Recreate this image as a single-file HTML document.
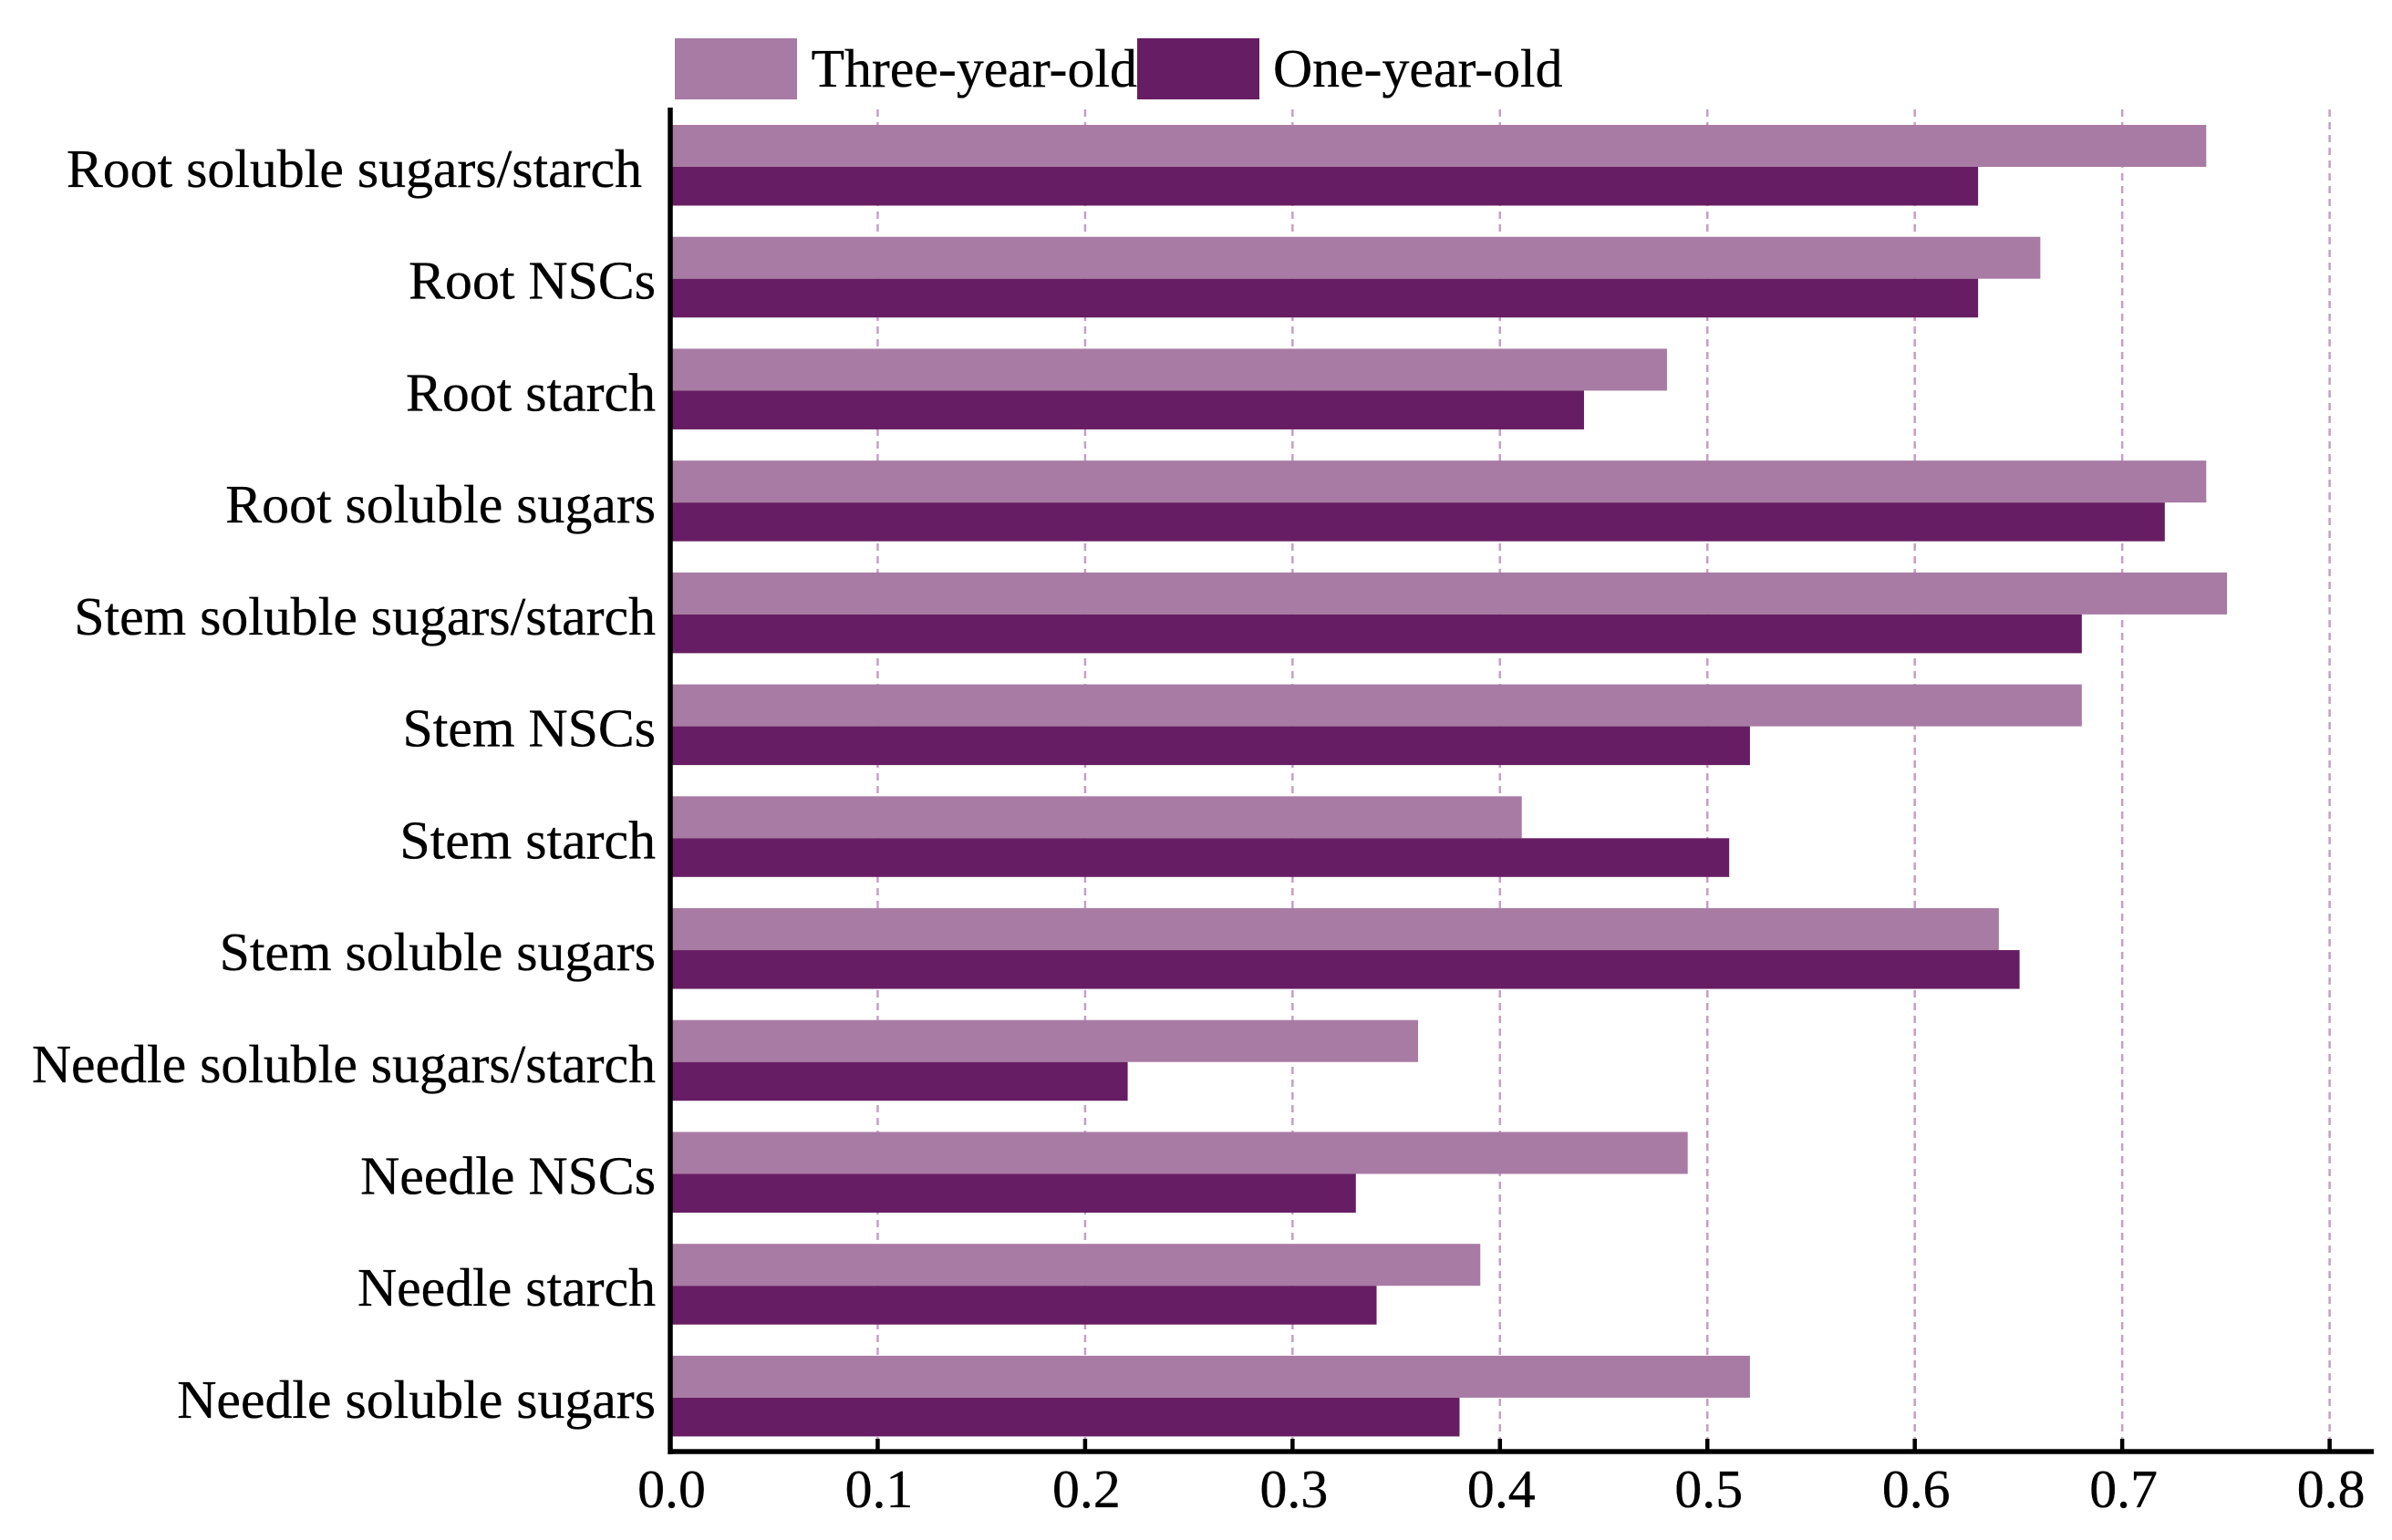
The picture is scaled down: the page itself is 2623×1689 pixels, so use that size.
<!DOCTYPE html>
<html lang="en">
<head>
<meta charset="utf-8">
<title>Three-year-old vs one-year-old bar chart</title>
<style>
html,body{margin:0;padding:0;background:#fff;width:2623px;height:1689px;overflow:hidden}
svg{display:block}
text{font-family:"Liberation Serif",serif;fill:#000;font-size:59.8px;stroke:#000;stroke-width:0.35px}
</style>
</head>
<body>
<svg id="chart" xmlns="http://www.w3.org/2000/svg" width="2623" height="1689" viewBox="0 0 2623 1689">
  <rect x="0" y="0" width="2623" height="1689" fill="#ffffff"/>
  <g id="grid"></g>
  <g id="bars"></g>
  <g id="axes"></g>
  <g id="legend">
    <rect x="740" y="42" width="134" height="67" fill="#A87BA5"/>
    <text x="889.5" y="95">Three-year-old</text>
    <rect x="1247" y="42" width="134" height="67" fill="#671D63"/>
    <text x="1396" y="95">One-year-old</text>
  </g>
</svg>
<script>
const categories = ["Root soluble sugars/starch","Root NSCs","Root starch","Root soluble sugars","Stem soluble sugars/starch","Stem NSCs","Stem starch","Stem soluble sugars","Needle soluble sugars/starch","Needle NSCs","Needle starch","Needle soluble sugars"];
const threeYearOld = [0.74,0.66,0.48,0.74,0.75,0.68,0.41,0.64,0.36,0.49,0.39,0.52];
const oneYearOld = [0.63,0.63,0.44,0.72,0.68,0.52,0.51,0.65,0.22,0.33,0.34,0.38];
const xTicks = [0,0.1,0.2,0.3,0.4,0.5,0.6,0.7,0.8];
const xTickLabels = ["0.0","0.1","0.2","0.3","0.4","0.5","0.6","0.7","0.8"];

const SVG_NS = "http://www.w3.org/2000/svg";
const X0 = 735, X_UNIT = 2274.5, AXIS_Y = 1592, GROUP_TOP = 137, GROUP_PITCH = 122.72, LIGHT_H = 46, DARK_H = 42.5, BAR_EDGE = 1.2;
const xScale = v => X0 + v * X_UNIT;
const groupTop = i => GROUP_TOP + i * GROUP_PITCH;
function make(tag, attrs, parent) {
  const el = document.createElementNS(SVG_NS, tag);
  for (const k in attrs) el.setAttribute(k, attrs[k]);
  parent.appendChild(el);
  return el;
}
const gridG = document.getElementById("grid");
const barsG = document.getElementById("bars");
const axesG = document.getElementById("axes");

xTicks.forEach((t, i) => {
  if (t > 0) {
    const g = make("line", {x1: xScale(t), x2: xScale(t), y1: 120, y2: AXIS_Y - 12, stroke: "#C4A0C2", "stroke-width": 2.5, "stroke-dasharray": "8 6"}, gridG);
    
    
    const tk = make("line", {x1: xScale(t), x2: xScale(t), y1: AXIS_Y - 14, y2: AXIS_Y, stroke: "#000", "stroke-width": 4.5}, axesG);
    
    
  }
  const lb = make("text", {x: xScale(t) + 1.5, y: 1653, "text-anchor": "middle"}, axesG);
  lb.textContent = xTickLabels[i];
  
  
});

categories.forEach((c, i) => {
  const top = groupTop(i);
  const a = make("rect", {x: X0, y: top, width: xScale(threeYearOld[i]) - X0 + BAR_EDGE, height: LIGHT_H, fill: "#A87BA5"}, barsG);
  
  
  const b = make("rect", {x: X0, y: top + LIGHT_H, width: xScale(oneYearOld[i]) - X0 + BAR_EDGE, height: DARK_H, fill: "#671D63"}, barsG);
  
  
  const right = i === 0 ? 704 : 719;
  const lb = make("text", {x: right, y: top + 68, "text-anchor": "end"}, axesG);
  lb.textContent = c;
  
  
});

const yAxis = make("line", {x1: 735, x2: 735, y1: 118, y2: 1595, stroke: "#000", "stroke-width": 5.5}, axesG);


const xAxis = make("line", {x1: 732.5, x2: 2603, y1: AXIS_Y, y2: AXIS_Y, stroke: "#000", "stroke-width": 5.5}, axesG);


</script>
</body>
</html>
